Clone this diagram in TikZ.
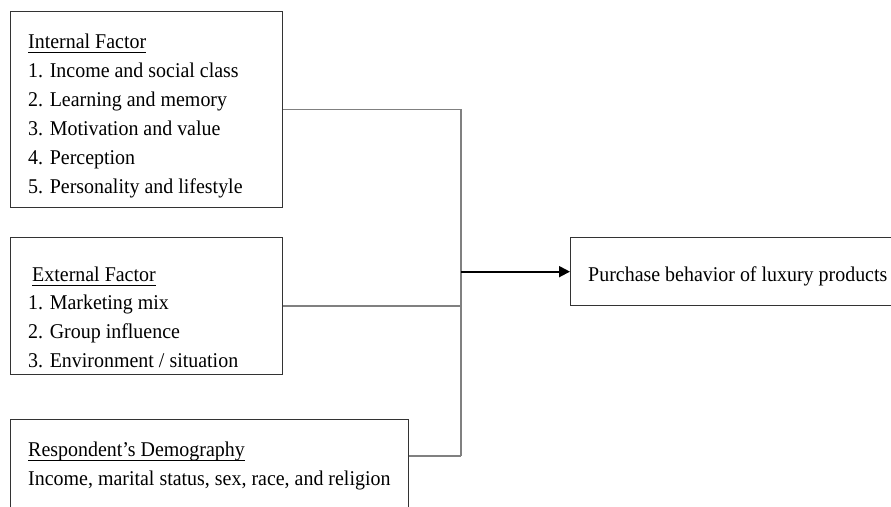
\documentclass[tikz,border=0pt]{standalone}
\usepackage{fontspec}
\setmainfont[FakeStretch=0.95]{Liberation Serif}
\usetikzlibrary{arrows.meta}
\begin{document}
\begin{tikzpicture}[x=1pt,y=-1pt,
  box/.style={draw=black!80, line width=1.3pt, inner sep=0pt, anchor=north west},
  txt/.style={anchor=base west, inner sep=0pt, font=\fontsize{21}{25}\selectfont},
  uline/.style={draw=black, line width=1pt},
  conn/.style={draw=black!50, line width=1.5pt},
  arr/.style={draw=black, line width=1.8pt, -{Triangle[length=11pt,width=11pt]}}]
\useasboundingbox (0,0) rectangle (891,506);
\clip (0,0) rectangle (891,506);
% boxes
\node[box, minimum width=272pt, minimum height=196pt] (b1) at (10,11) {};
\node[box, minimum width=272pt, minimum height=137pt] (b2) at (10,237) {};
\node[box, minimum width=398pt, minimum height=130pt] (b3) at (10,419) {};
\node[box, minimum width=340pt, minimum height=68pt] (out) at (570,237) {};
% texts
\node[txt] (t1h) at (28,48) {Internal Factor};
\node[txt] (t11) at (28,77) {1. Income and social class};
\node[txt] (t12) at (28,106) {2. Learning and memory};
\node[txt] (t13) at (28,135) {3. Motivation and value};
\node[txt] (t14) at (28,164) {4. Perception};
\node[txt] (t15) at (28,193) {5. Personality and lifestyle};
\node[txt] (t2h) at (32,281) {External Factor};
\node[txt] (t21) at (28,309) {1. Marketing mix};
\node[txt] (t22) at (28,338) {2. Group influence};
\node[txt] (t23) at (28,367) {3. Environment / situation};
\node[txt] (t3h) at (28,456) {Respondent’s Demography};
\node[txt] (t31) at (28,485) {Income, marital status, sex, race, and religion};
\node[txt] (to) at (588,281) {Purchase behavior of luxury products};
% underlines
\foreach \n in {t1h,t2h,t3h}
  \draw[uline] ([yshift=-4pt]\n.base west) -- ([yshift=-4pt]\n.base east);
% connectors
\coordinate (j3) at (461,456);
\draw[conn] (b1.east) -- (b1.east -| j3) -- (j3);
\draw[conn] (b2.east) -- (b2.east -| j3);
\draw[conn] (j3 -| b3.east) -- (j3);
\draw[arr] (out.west -| j3) -- (out.west);
\end{tikzpicture}
\end{document}
